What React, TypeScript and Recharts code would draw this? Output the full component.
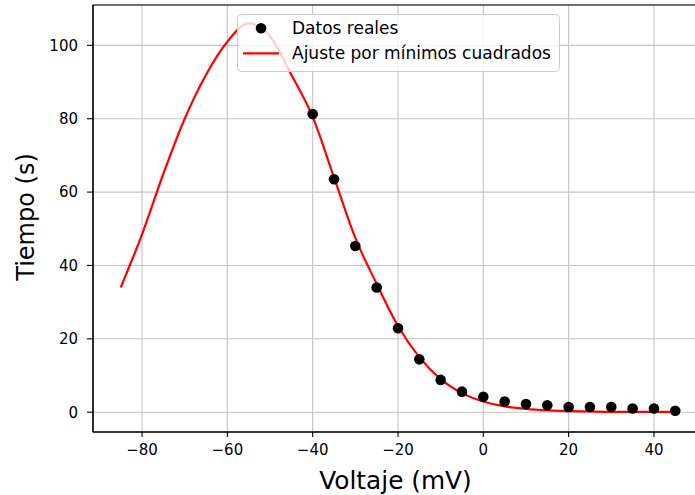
import React from 'react';
import {
  ComposedChart,
  Line,
  Scatter,
  XAxis,
  YAxis,
  CartesianGrid,
  ReferenceArea,
} from 'recharts';

// Measured data (Voltaje mV -> Tiempo s)
const voltajes = [-40, -35, -30, -25, -20, -15, -10, -5, 0, 5, 10, 15, 20, 25, 30, 35, 40, 45];
const tiempos = [81.3, 63.5, 45.3, 34.0, 22.9, 14.4, 8.8, 5.6, 4.2, 2.9, 2.2, 1.9, 1.4, 1.4, 1.4, 1.0, 1.0, 0.4];

// Least-squares fit curve
const ajusteX = [-85, -80, -75, -70, -65, -60, -55, -50, -45, -40, -35, -30, -25, -20, -15, -10, -5, 0, 5, 10, 15, 20, 25, 30, 35, 40, 45];
const ajusteY = [34, 48.5, 65, 80, 92, 101, 106, 102.5, 92, 80.5, 64, 47.5, 35, 23.5, 15, 9, 5.2, 2.9, 1.6, 0.9, 0.5, 0.3, 0.2, 0.1, 0.1, 0.1, 0.1];

const xTicks = [-80, -60, -40, -20, 0, 20, 40];
const yTicks = [0, 20, 40, 60, 80, 100];
const xDomain: [number, number] = [-91.5, 51.5];
const yDomain: [number, number] = [-5.4, 111];

const serieDatos = 'Datos reales';
const serieAjuste = 'Ajuste por mínimos cuadrados';

const puntos = voltajes.map((x, i) => ({ x, y: tiempos[i] }));
const curva = ajusteX.map((x, i) => ({ x, y: ajusteY[i] }));

const FONT = 'DejaVu Sans, sans-serif';

const LegendBox = () => (
  <svg width={323} height={58} style={{ display: 'block' }}>
    <rect x={0.5} y={0.5} width={322} height={57} rx={4} ry={4} fill="rgba(255,255,255,0.8)" stroke="#cccccc" strokeWidth={1} />
    <circle cx={24} cy={14.3} r={5.3} fill="#000" />
    <text x={55} y={20.2} fontSize={17} fontFamily={FONT} fill="#000">{serieDatos}</text>
    <line x1={6} x2={42} y1={39.3} y2={39.3} stroke="#ff0000" strokeWidth={2.2} />
    <text x={55} y={45.3} fontSize={17} fontFamily={FONT} fill="#000">{serieAjuste}</text>
  </svg>
);

const Dot = (props: any) => <circle cx={props.cx} cy={props.cy} r={5.3} fill="#000" />;

export default function App() {
  return (
    <div style={{ position: 'absolute', left: 0, top: 0, width: 695, height: 495, overflow: 'hidden', background: '#fff' }}>
      <ComposedChart
        width={710}
        height={495}
        margin={{ top: 5, right: 7, bottom: 0, left: 0 }}
        style={{ fontFamily: FONT }}
      >
        <CartesianGrid stroke="#c4c4c4" strokeWidth={1.1} />
        <XAxis
          type="number"
          dataKey="x"
          domain={xDomain}
          ticks={xTicks}
          allowDataOverflow
          height={63}
          tickSize={5}
          tickMargin={7}
          tick={{ fontSize: 15, fill: '#000', fontFamily: FONT }}
          tickFormatter={(v: number) => (v < 0 ? '\u2212' + Math.abs(v) : String(v))}
          axisLine={{ stroke: '#000', strokeWidth: 1.1 }}
          tickLine={{ stroke: '#000', strokeWidth: 1.1 }}
          label={{
            content: (p: any) => (
              <text
                x={p.viewBox.x + p.viewBox.width / 2 - 2.5}
                y={p.viewBox.y + 56.5}
                textAnchor="middle"
                fontSize={24.8}
                fontFamily={FONT}
                fill="#000"
              >
                Voltaje (mV)
              </text>
            ),
          }}
        />
        <YAxis
          type="number"
          dataKey="y"
          domain={yDomain}
          ticks={yTicks}
          allowDataOverflow
          width={93}
          tickSize={6}
          tickMargin={9}
          tick={{ fontSize: 15, fill: '#000', fontFamily: FONT }}
          axisLine={{ stroke: '#000', strokeWidth: 1.1 }}
          tickLine={{ stroke: '#000', strokeWidth: 1.1 }}
          label={{
            content: (p: any) => {
              const cx = p.viewBox.x + 33.5;
              const cy = p.viewBox.y + p.viewBox.height / 2 - 1.5;
              return (
                <text
                  x={cx}
                  y={cy}
                  transform={`rotate(-90 ${cx} ${cy})`}
                  textAnchor="middle"
                  fontSize={24}
                  fontFamily={FONT}
                  fill="#000"
                >
                  Tiempo (s)
                </text>
              );
            },
          }}
        />
        <ReferenceArea
          x1={xDomain[0]}
          x2={xDomain[1]}
          y1={yDomain[0]}
          y2={yDomain[1]}
          fill="none"
          fillOpacity={0}
          stroke="#000"
          strokeWidth={1.1}
          ifOverflow="visible"
        />
        <Scatter
          name={serieDatos}
          data={puntos}
          dataKey="y"
          fill="#000"
          shape={Dot}
          isAnimationActive={false}
        />
        <Line
          name={serieAjuste}
          data={curva}
          dataKey="y"
          type="monotone"
          stroke="#ff0000"
          strokeWidth={2.2}
          dot={false}
          activeDot={false}
          isAnimationActive={false}
        />
      </ComposedChart>
      <div style={{ position: 'absolute', left: 237, top: 14 }}>
        <LegendBox />
      </div>
    </div>
  );
}
